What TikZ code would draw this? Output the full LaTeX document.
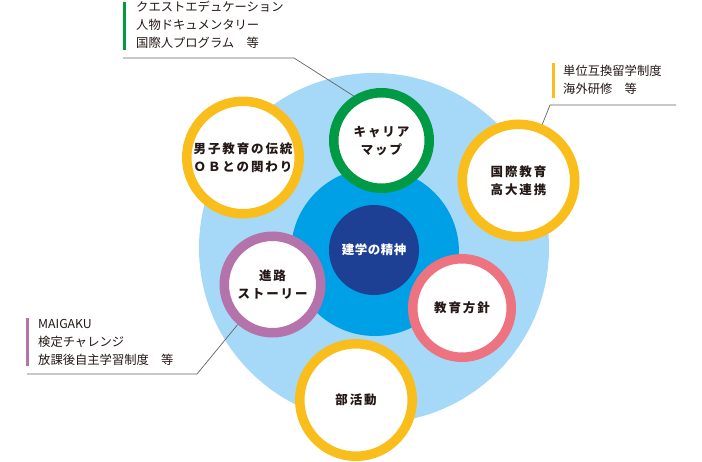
\documentclass[tikz,border=0pt]{standalone}
\usepackage{fontspec}
\setmainfont{Noto Sans CJK JP}
\newfontfamily\jpb[LetterSpace=15]{Noto Sans CJK JP}
\newfontfamily\jpc[LetterSpace=4]{Noto Sans CJK JP}
\definecolor{lb}{HTML}{A6D9F7}
\definecolor{mb}{HTML}{00A0E6}
\definecolor{db}{HTML}{1D3F94}
\definecolor{cgreen}{HTML}{009944}
\definecolor{cyellow}{HTML}{F9BE1C}
\definecolor{cpurple}{HTML}{B573AB}
\definecolor{cpink}{HTML}{EE7380}
\definecolor{txt}{HTML}{231815}
\definecolor{lead}{HTML}{666464}
\begin{document}
\begin{tikzpicture}[x=1pt,y=-1pt,
  ring/.style={circle, draw=#1, fill=white, line width=9.5pt, inner sep=0pt,
    align=center, text=txt, font=\jpb\bfseries\fontsize{12.5}{18}\selectfont},
  corenode/.style={circle, fill=db, inner sep=0pt, minimum size=90pt,
    text=white, font=\jpc\bfseries\fontsize{12.5}{16}\selectfont},
  callout/.style={anchor=west, align=left, inner sep=0pt, text=txt,
    font=\fontsize{12.3}{18}\selectfont},
  bar/.style={line width=3pt, draw=#1},
  leader/.style={draw=lead, line width=0.7pt}]
\useasboundingbox (0,0) rectangle (702,461);
% background discs
\fill[lb] (374,248) circle[radius=175pt];
\fill[mb] (375,252) circle[radius=84pt];
\node[corenode] (core) at (374,250) {建学の精神};
% leader coordinates
\coordinate (tlA) at (123,58);
\coordinate (tlB) at (294,58);
\coordinate (trA) at (676,105);
\coordinate (trB) at (550,105);
\coordinate (blA) at (27,374);
\coordinate (blB) at (197,374);
% rings
\node[ring=cgreen, minimum size=95.5pt] (career) at (381.5,140.5) {キャリア\\マップ};
\node[ring=cyellow, minimum size=112.5pt] (boys) at (243,157.5) {男子教育の伝統\\ＯＢとの関わり};
\node[ring=cyellow, minimum size=112.5pt] (intl) at (518.5,180.5) {国際教育\\高大連携};
\node[ring=cpurple, minimum size=96.5pt] (path) at (272.5,284.5) {進路\\ストーリー};
\node[ring=cpink, minimum size=98.5pt] (policy) at (462,308) {教育方針};
\node[ring=cyellow, minimum size=112.5pt] (club) at (356,400) {部活動};
% leaders
\draw[leader] (tlA) -- (tlB) -- (career.122);
\draw[leader] (trA) -- (trB) -- (intl.67);
\draw[leader] (blA) -- (blB) -- (path.229);
% callouts
\coordinate (gb1) at (124.5,2);
\coordinate (gb2) at (124.5,50);
\draw[bar=cgreen] (gb1) -- (gb2);
\node[callout] (ctl) at (136,25) {クエストエデュケーション\\人物ドキュメンタリー\\国際人プログラム　等};
\coordinate (yb1) at (553.5,63);
\coordinate (yb2) at (553.5,98);
\draw[bar=cyellow] (yb1) -- (yb2);
\node[callout] (ctr) at (563,80) {単位互換留学制度\\海外研修　等};
\coordinate (pb1) at (27.5,318);
\coordinate (pb2) at (27.5,366);
\draw[bar=cpurple] (pb1) -- (pb2);
\node[callout] (cbl) at (38,342) {MAIGAKU\\検定チャレンジ\\放課後自主学習制度　等};
\end{tikzpicture}
\end{document}
